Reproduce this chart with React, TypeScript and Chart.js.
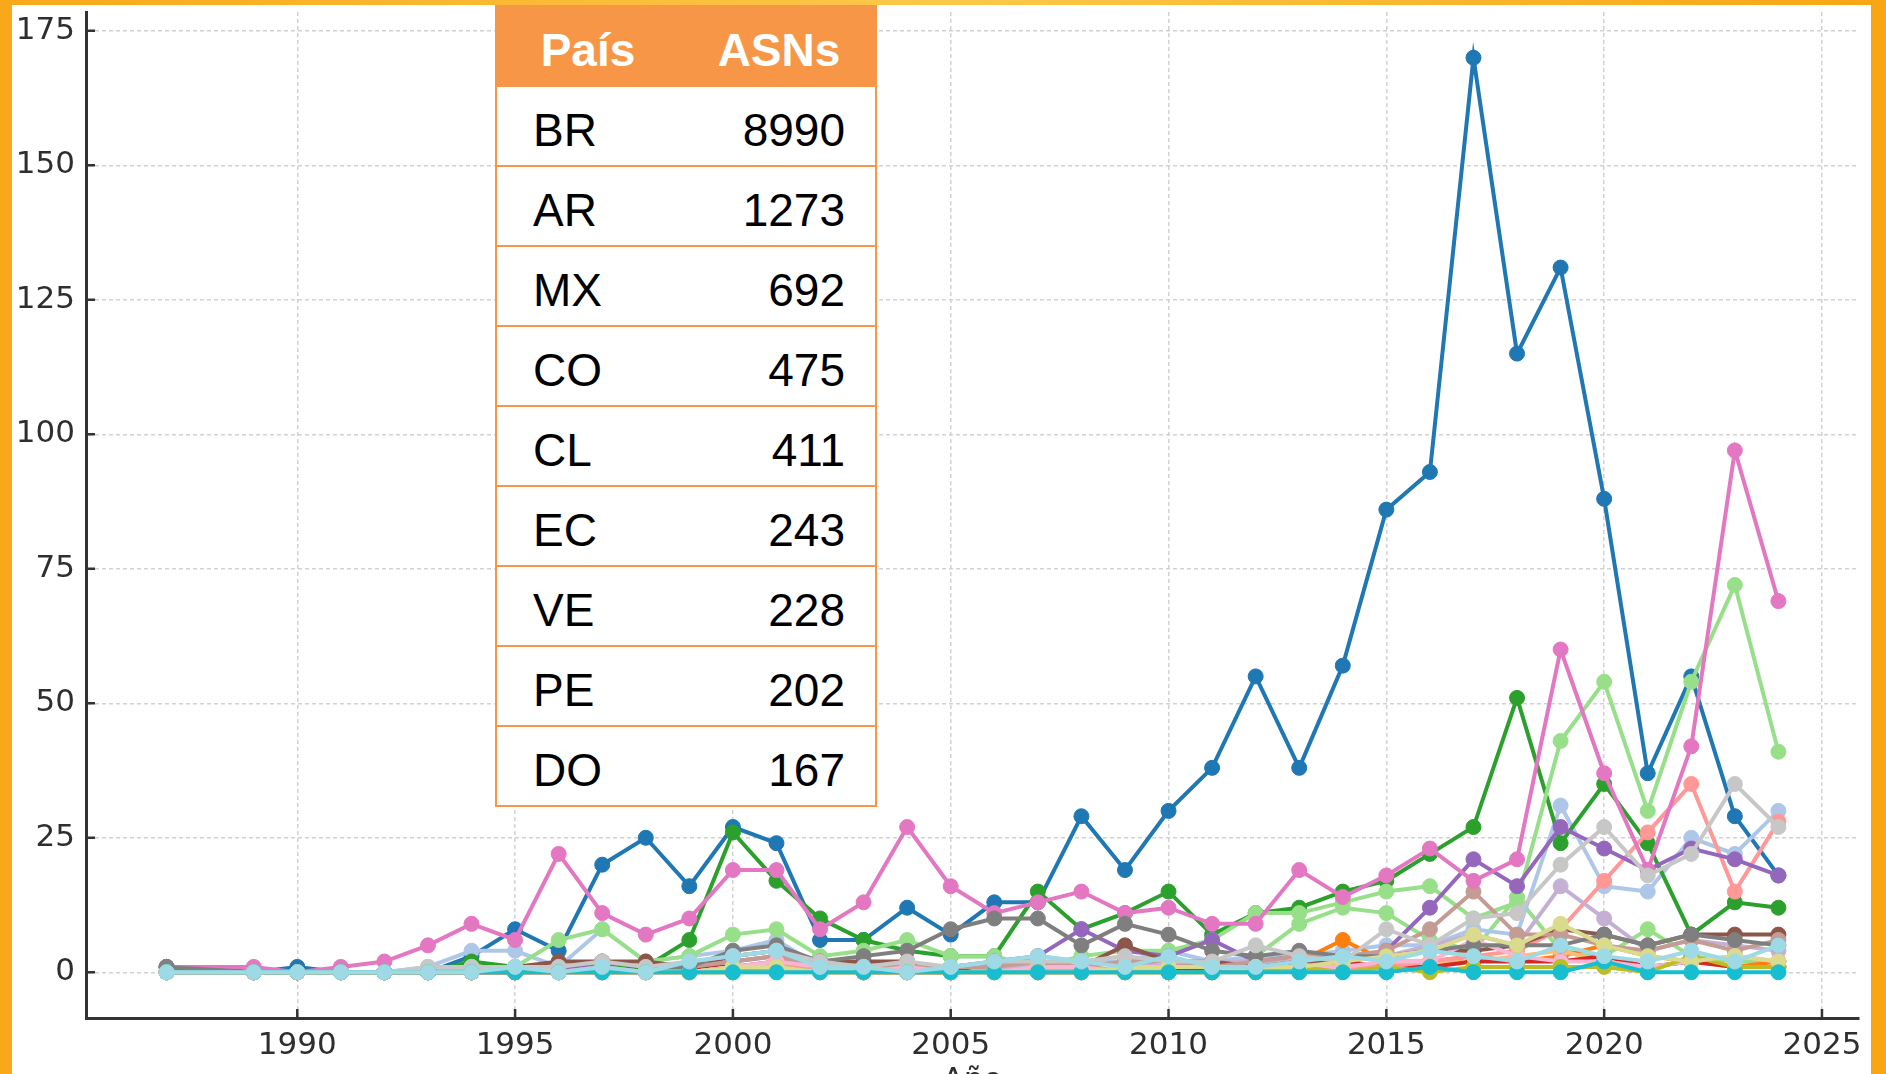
import React, { useEffect, useRef } from "react";
import { Chart, registerables } from "chart.js";

Chart.register(...registerables);

// ---------- data ----------
const years = [1987, 1989, 1990, 1991, 1992, 1993, 1994, 1995, 1996, 1997, 1998, 1999, 2000, 2001, 2002, 2003, 2004, 2005, 2006, 2007, 2008, 2009, 2010, 2011, 2012, 2013, 2014, 2015, 2016, 2017, 2018, 2019, 2020, 2021, 2022, 2023, 2024];

const xTicks = [1990, 1995, 2000, 2005, 2010, 2015, 2020, 2025];
const yTicks = [0, 25, 50, 75, 100, 125, 150, 175];

const seriesNames = ["VE", "BR", "AR", "BO", "BZ", "CL", "CO", "CR", "CU", "DO", "EC", "GT", "HN", "MX", "NI", "PA", "PE", "PY", "SV", "TT", "UY"];

const sVE = [0, 0, 0, 0, 0, 0, 0, 0, 0, 0, 0, 0, 0, 0, 0, 0, 0, 0, 0, 0, 0, 0, 0, 0, 3, 9, 12, 11, 6, 4, 14, 4, 3, 8, 3, 2, 2];
const sBR = [1, 0, 1, 0, 0, 0, 3, 8, 4, 20, 25, 16, 27, 24, 6, 6, 12, 7, 13, 13, 29, 19, 30, 38, 55, 38, 57, 86, 93, 170, 115, 131, 88, 37, 55, 29, 18];
const sAR = [0, 0, 0, 0, 0, 1, 4, 4, 1, 8, 2, 3, 4, 6, 1, 2, 1, 1, 2, 3, 2, 2, 4, 2, 3, 3, 4, 5, 5, 8, 7, 31, 16, 15, 25, 22, 30];
const sBO = [0, 0, 0, 0, 0, 0, 0, 0, 0, 0, 0, 0, 1, 1, 0, 0, 0, 0, 1, 0, 1, 0, 0, 1, 1, 2, 6, 2, 2, 3, 2, 3, 5, 3, 2, 1, 2];
const sBZ = [0, 0, 0, 0, 0, 0, 0, 0, 0, 0, 0, 0, 0, 1, 0, 0, 0, 0, 0, 0, 0, 1, 0, 0, 1, 0, 1, 1, 2, 2, 3, 4, 2, 1, 2, 3, 2];
const sCL = [0, 0, 0, 0, 0, 0, 2, 1, 1, 1, 1, 6, 26, 17, 10, 6, 4, 3, 3, 15, 8, 11, 15, 7, 11, 12, 15, 17, 22, 27, 51, 24, 35, 24, 7, 13, 12];
const sCO = [0, 0, 0, 0, 0, 0, 1, 1, 6, 8, 2, 3, 7, 8, 3, 4, 6, 3, 3, 1, 3, 4, 4, 6, 11, 11, 13, 15, 16, 10, 13, 43, 54, 30, 54, 72, 41];
const sCR = [0, 0, 0, 0, 0, 0, 0, 0, 0, 0, 0, 1, 1, 2, 1, 0, 0, 0, 1, 0, 0, 1, 1, 0, 1, 1, 2, 1, 1, 2, 2, 2, 3, 1, 2, 1, 1];
const sCU = [0, 0, 0, 0, 0, 0, 0, 0, 0, 0, 0, 0, 1, 2, 0, 0, 1, 0, 0, 1, 0, 0, 1, 1, 0, 1, 1, 1, 2, 3, 4, 8, 17, 26, 35, 15, 28];
const sDO = [0, 0, 0, 0, 0, 0, 0, 0, 1, 1, 0, 1, 2, 3, 1, 1, 1, 1, 2, 3, 8, 4, 3, 6, 2, 3, 2, 4, 12, 21, 16, 27, 23, 19, 23, 21, 18];
const sEC = [0, 0, 0, 0, 0, 0, 0, 0, 0, 1, 0, 1, 3, 4, 1, 1, 1, 0, 1, 1, 1, 2, 1, 2, 2, 2, 3, 3, 5, 7, 5, 16, 10, 4, 6, 5, 4];
const sGT = [1, 0, 0, 0, 0, 0, 0, 1, 2, 2, 2, 1, 3, 4, 2, 2, 2, 0, 2, 2, 1, 5, 2, 2, 1, 2, 2, 3, 4, 4, 5, 8, 7, 5, 7, 7, 7];
const sHN = [0, 0, 0, 0, 0, 0, 0, 0, 0, 1, 0, 1, 2, 3, 1, 1, 1, 1, 1, 2, 1, 2, 2, 1, 2, 3, 3, 4, 8, 15, 7, 7, 5, 4, 6, 4, 6];
const sMX = [1, 1, 0, 1, 2, 5, 9, 6, 22, 11, 7, 10, 19, 19, 8, 13, 27, 16, 11, 13, 15, 11, 12, 9, 9, 19, 14, 18, 23, 17, 21, 60, 37, 19, 42, 97, 69];
const sNI = [0, 0, 0, 0, 0, 0, 0, 0, 0, 0, 0, 0, 1, 2, 1, 0, 1, 0, 0, 1, 1, 0, 1, 1, 0, 1, 1, 2, 2, 6, 3, 2, 2, 1, 2, 3, 2];
const sPA = [1, 0, 0, 0, 0, 0, 0, 0, 1, 2, 1, 1, 4, 5, 2, 3, 4, 8, 10, 10, 5, 9, 7, 4, 3, 4, 3, 3, 4, 5, 5, 5, 7, 5, 7, 6, 5];
const sPE = [0, 0, 0, 0, 0, 1, 1, 1, 1, 2, 1, 2, 3, 4, 2, 1, 2, 1, 2, 2, 2, 3, 2, 2, 5, 3, 2, 8, 5, 10, 11, 20, 27, 18, 22, 35, 27];
const sPY = [0, 0, 0, 0, 0, 0, 0, 0, 0, 0, 0, 0, 0, 1, 0, 0, 0, 0, 0, 0, 0, 0, 0, 0, 0, 1, 0, 1, 0, 1, 1, 1, 1, 0, 3, 1, 1];
const sSV = [0, 0, 0, 0, 0, 0, 0, 1, 0, 0, 0, 0, 1, 1, 0, 0, 0, 0, 0, 0, 0, 1, 1, 1, 1, 1, 2, 3, 4, 7, 5, 9, 5, 3, 2, 3, 2];
const sTT = [0, 0, 0, 0, 0, 0, 0, 0, 0, 0, 0, 0, 0, 0, 0, 0, 0, 0, 0, 0, 0, 0, 0, 0, 0, 0, 0, 0, 1, 0, 0, 0, 2, 0, 0, 0, 0];
const sUY = [0, 0, 0, 0, 0, 0, 0, 1, 0, 1, 0, 2, 3, 4, 1, 1, 0, 1, 2, 3, 2, 1, 3, 1, 1, 2, 3, 2, 4, 3, 2, 5, 3, 2, 4, 2, 5];

const seriesValues = [sVE, sBR, sAR, sBO, sBZ, sCL, sCO, sCR, sCU, sDO, sEC, sGT, sHN, sMX, sNI, sPA, sPE, sPY, sSV, sTT, sUY];

const tab20 = ["#1f77b4", "#aec7e8", "#ff7f0e", "#ffbb78", "#2ca02c", "#98df8a", "#d62728", "#ff9896", "#9467bd", "#c5b0d5", "#8c564b", "#c49c94", "#e377c2", "#f7b6d2", "#7f7f7f", "#c7c7c7", "#bcbd22", "#dbdb8d", "#17becf", "#9edae5"];
const seriesColors = ["#98df8a", ...tab20];

const tableCountries = ["BR", "AR", "MX", "CO", "CL", "EC", "VE", "PE", "DO"];
const tableAsns = [8990, 1273, 692, 475, 411, 243, 228, 202, 167];
const tableHeaders = ["País", "ASNs"];

// ---------- component ----------
const ORANGE = "#F79646";

export default function App() {
  const ref = useRef<HTMLCanvasElement | null>(null);

  useEffect(() => {
    document.body.style.margin = "0";
    const canvas = ref.current;
    if (!canvas) return;

    const inwardTicks = {
      id: "inwardTicks",
      afterDatasetsDraw(chart: any) {
        const { ctx, chartArea, scales } = chart;
        ctx.save();
        ctx.strokeStyle = "#333333";
        ctx.lineWidth = 2.5;
        ctx.beginPath();
        yTicks.forEach((v) => {
          const y = scales.y.getPixelForValue(v);
          ctx.moveTo(chartArea.left, y);
          ctx.lineTo(chartArea.left + 9, y);
        });
        xTicks.forEach((v) => {
          const x = scales.x.getPixelForValue(v);
          ctx.moveTo(x, chartArea.bottom);
          ctx.lineTo(x, chartArea.bottom - 9);
        });
        ctx.stroke();
        ctx.restore();
      },
    };

    const tickFont = { family: "'DejaVu Sans', sans-serif", size: 31 };

    const chart = new Chart(canvas, {
      type: "line",
      data: {
        datasets: seriesValues.map((vals, i) => ({
          label: seriesNames[i],
          data: years.map((yr, j) => ({ x: yr, y: vals[j] })),
          borderColor: seriesColors[i],
          backgroundColor: seriesColors[i],
          pointBackgroundColor: seriesColors[i],
          pointBorderColor: seriesColors[i],
          pointRadius: 7.5,
          pointBorderWidth: 1,
          borderWidth: 4,
          tension: 0,
          fill: false,
          order: -i,
        })),
      },
      options: {
        responsive: false,
        animation: false,
        layout: { padding: { left: 0, right: 27, top: 12, bottom: 0 } },
        plugins: {
          legend: { display: false },
          tooltip: { enabled: false },
        },
        scales: {
          x: {
            type: "linear",
            min: 1985.15,
            max: 2025.85,
            afterBuildTicks: (axis: any) => {
              axis.ticks = xTicks.map((v) => ({ value: v }));
            },
            afterFit: (axis: any) => {
              axis.height = 82;
              axis.paddingLeft = 0;
              axis.paddingRight = 0;
            },
            grid: { color: "#d2d2d2", lineWidth: 1.5, drawTicks: false },
            border: { display: true, color: "#333333", width: 3, dash: [4, 3] },
            ticks: {
              padding: 9,
              color: "#2e2e2e",
              font: tickFont,
              maxRotation: 0,
              autoSkip: false,
              callback: (v: any) => String(v),
            },
            title: {
              display: true,
              text: "Año",
              color: "#2e2e2e",
              font: tickFont,
              padding: { top: 0, bottom: 0 },
            },
          },
          y: {
            min: -8.5,
            max: 178.5,
            afterBuildTicks: (axis: any) => {
              axis.ticks = yTicks.map((v) => ({ value: v }));
            },
            afterFit: (axis: any) => {
              axis.width = 86;
              axis.paddingTop = 0;
              axis.paddingBottom = 0;
            },
            grid: { color: "#d2d2d2", lineWidth: 1.5, drawTicks: false },
            border: { display: true, color: "#333333", width: 3, dash: [4, 3] },
            ticks: {
              padding: 11,
              color: "#2e2e2e",
              font: tickFont,
              callback: (v: any) => String(v),
            },
          },
        },
      },
      plugins: [inwardTicks],
    } as any);

    return () => chart.destroy();
  }, []);

  const cellFont = "'Liberation Sans', Arial, sans-serif";

  return (
    <div
      style={{
        position: "fixed",
        left: 0,
        top: 0,
        width: 1886,
        height: 1074,
        overflow: "hidden",
        background: "linear-gradient(90deg, #F9A81A 0%, #FCC84A 50%, #F8A514 100%)",
      }}
    >
      <div
        style={{
          position: "absolute",
          left: 12,
          top: 5,
          width: 1859,
          height: 1100,
          background: "#ffffff",
        }}
      />
      <canvas
        ref={ref}
        width={1886}
        height={1100}
        style={{ position: "absolute", left: 0, top: 0, width: 1886, height: 1100 }}
      />
      <div
        style={{
          position: "absolute",
          left: 495,
          top: 5,
          width: 382,
          fontFamily: cellFont,
          boxSizing: "border-box",
        }}
      >
        <div
          style={{
            display: "flex",
            height: 82,
            background: ORANGE,
            color: "#ffffff",
            fontWeight: "bold",
            fontSize: 46,
            alignItems: "center",
            paddingTop: 8,
            boxSizing: "border-box",
          }}
        >
          <div style={{ width: 186, textAlign: "center" }}>{tableHeaders[0]}</div>
          <div style={{ width: 196, textAlign: "center" }}>{tableHeaders[1]}</div>
        </div>
        {tableCountries.map((c, i) => (
          <div
            key={c}
            style={{
              display: "flex",
              height: 80,
              background: "#ffffff",
              borderLeft: `2px solid ${ORANGE}`,
              borderRight: `2px solid ${ORANGE}`,
              borderBottom: `2px solid ${ORANGE}`,
              boxSizing: "border-box",
              alignItems: "center",
              justifyContent: "space-between",
              paddingLeft: 36,
              paddingRight: 30,
              paddingTop: 8,
              fontSize: 46,
              color: "#000000",
            }}
          >
            <span>{c}</span>
            <span>{tableAsns[i]}</span>
          </div>
        ))}
      </div>
    </div>
  );
}
